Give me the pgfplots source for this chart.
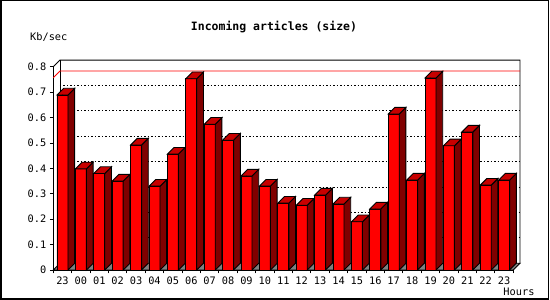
\documentclass[border=0pt]{standalone}
\usepackage{fontspec}
\setmainfont{DejaVu Sans Mono}
\usepackage{pgfplots}
\pgfplotsset{compat=1.18}
\definecolor{barfront}{HTML}{FF0000}
\definecolor{barside}{HTML}{800000}
\definecolor{bartop}{HTML}{C80000}
\definecolor{floorgray}{HTML}{808080}
\newcommand{\dd}{6.7pt}
\begin{document}
\begin{tikzpicture}[x=1pt,y=1pt]
\begin{axis}[
  at={(53.3pt,30pt)}, anchor=origin,
  x=18.4pt, y=254pt,
  xmin=0, xmax=25, ymin=0, ymax=0.8,
  clip=false,
  axis x line*=bottom, axis y line*=left,
  axis line style={line width=0.9pt},
  xtick pos=left, ytick pos=left,
  tick align=outside,
  major tick length=3.5pt,
  tick style={black, line width=0.9pt},
  xtick={0,1,...,25},
  x tick label as interval,
  xticklabels={23,00,01,02,03,04,05,06,07,08,09,10,11,12,13,14,15,16,17,18,19,20,21,22,23},
  ytick={0,0.1,0.2,0.3,0.4,0.5,0.6,0.7,0.8},
  yticklabel style={/pgf/number format/fixed, /pgf/number format/precision=1},
  /pgf/number format/assume math mode=true,
  tick label style={font=\fontsize{10.3}{12}\selectfont},
]
% back wall and left wall
\draw[line width=0.9pt] (axis cs:0,0.8) -- ++(\dd,\dd) -- ([shift={(\dd,\dd)}]axis cs:25,0.8) -- ([shift={(\dd,\dd)}]axis cs:25,0);
\draw[line width=0.9pt] ([shift={(\dd,\dd)}]axis cs:0,0.8) -- ([shift={(\dd,\dd)}]axis cs:0,0);
% grid lines on the back wall
\pgfplotsinvokeforeach{0.1,0.2,0.3,0.4,0.5,0.6,0.7}{
  \draw[line width=0.9pt, dash pattern=on 1.5pt off 2pt] ([shift={(\dd,\dd)}]axis cs:0,#1) -- ([shift={(\dd,\dd)}]axis cs:25,#1);
}
% max line
\draw[red, line width=0.9pt] (axis cs:0,0.757) -- ++(\dd,\dd) -- ([shift={(\dd,\dd)}]axis cs:25,0.757);
% floor
\filldraw[fill=floorgray, draw=black, line width=0.9pt] (axis cs:0,0) -- ([shift={(\dd,\dd)}]axis cs:0,0) -- ([shift={(\dd,\dd)}]axis cs:25,0) -- (axis cs:25,0) -- cycle;
% front faces
\addplot[ybar, bar width=11pt, fill=barfront, draw=black, line width=0.9pt] coordinates {
(0.5,0.689) (1.5,0.398) (2.5,0.380) (3.5,0.350) (4.5,0.492)
(5.5,0.330) (6.5,0.456) (7.5,0.753) (8.5,0.574) (9.5,0.511)
(10.5,0.370) (11.5,0.330) (12.5,0.263) (13.5,0.255) (14.5,0.295)
(15.5,0.260) (16.5,0.190) (17.5,0.240) (18.5,0.614) (19.5,0.354)
(20.5,0.756) (21.5,0.489) (22.5,0.543) (23.5,0.334) (24.5,0.354)
};
% side and top faces
\addplot[scatter, only marks, mark=*, mark size=0.01pt,
  visualization depends on={rawy \as \ry},
  scatter/@pre marker code/.code={%
    \pgfmathsetmacro\hh{254*\ry}%
    \filldraw[fill=barside, draw=black, line width=0.9pt, line join=miter] (5.5pt,0pt) -- ++(\dd,\dd) -- ++(0pt,-\hh pt) -- (5.5pt,-\hh pt) -- cycle;
    \filldraw[fill=bartop, draw=black, line width=0.9pt, line join=miter] (-5.5pt,0pt) -- ++(\dd,\dd) -- ++(11pt,0pt) -- (5.5pt,0pt) -- cycle;
  },
  scatter/@post marker code/.code={},
] coordinates {
(0.5,0.689) (1.5,0.398) (2.5,0.380) (3.5,0.350) (4.5,0.492)
(5.5,0.330) (6.5,0.456) (7.5,0.753) (8.5,0.574) (9.5,0.511)
(10.5,0.370) (11.5,0.330) (12.5,0.263) (13.5,0.255) (14.5,0.295)
(15.5,0.260) (16.5,0.190) (17.5,0.240) (18.5,0.614) (19.5,0.354)
(20.5,0.756) (21.5,0.489) (22.5,0.543) (23.5,0.334) (24.5,0.354)
};
\end{axis}
\node[font=\bfseries\fontsize{11.5}{13}\selectfont] at (274pt,273.3pt) {Incoming articles (size)};
\node[font=\fontsize{10.3}{12}\selectfont] at (48.8pt,263.3pt) {Kb/sec};
\node[font=\fontsize{10.3}{12}\selectfont] at (519pt,8pt) {Hours};
\draw[line width=1.5pt] (0.75pt,1pt) rectangle (548.5pt,299.25pt);
\pgfresetboundingbox
\useasboundingbox (0pt,0pt) rectangle (550pt,300pt);
\end{tikzpicture}
\end{document}
